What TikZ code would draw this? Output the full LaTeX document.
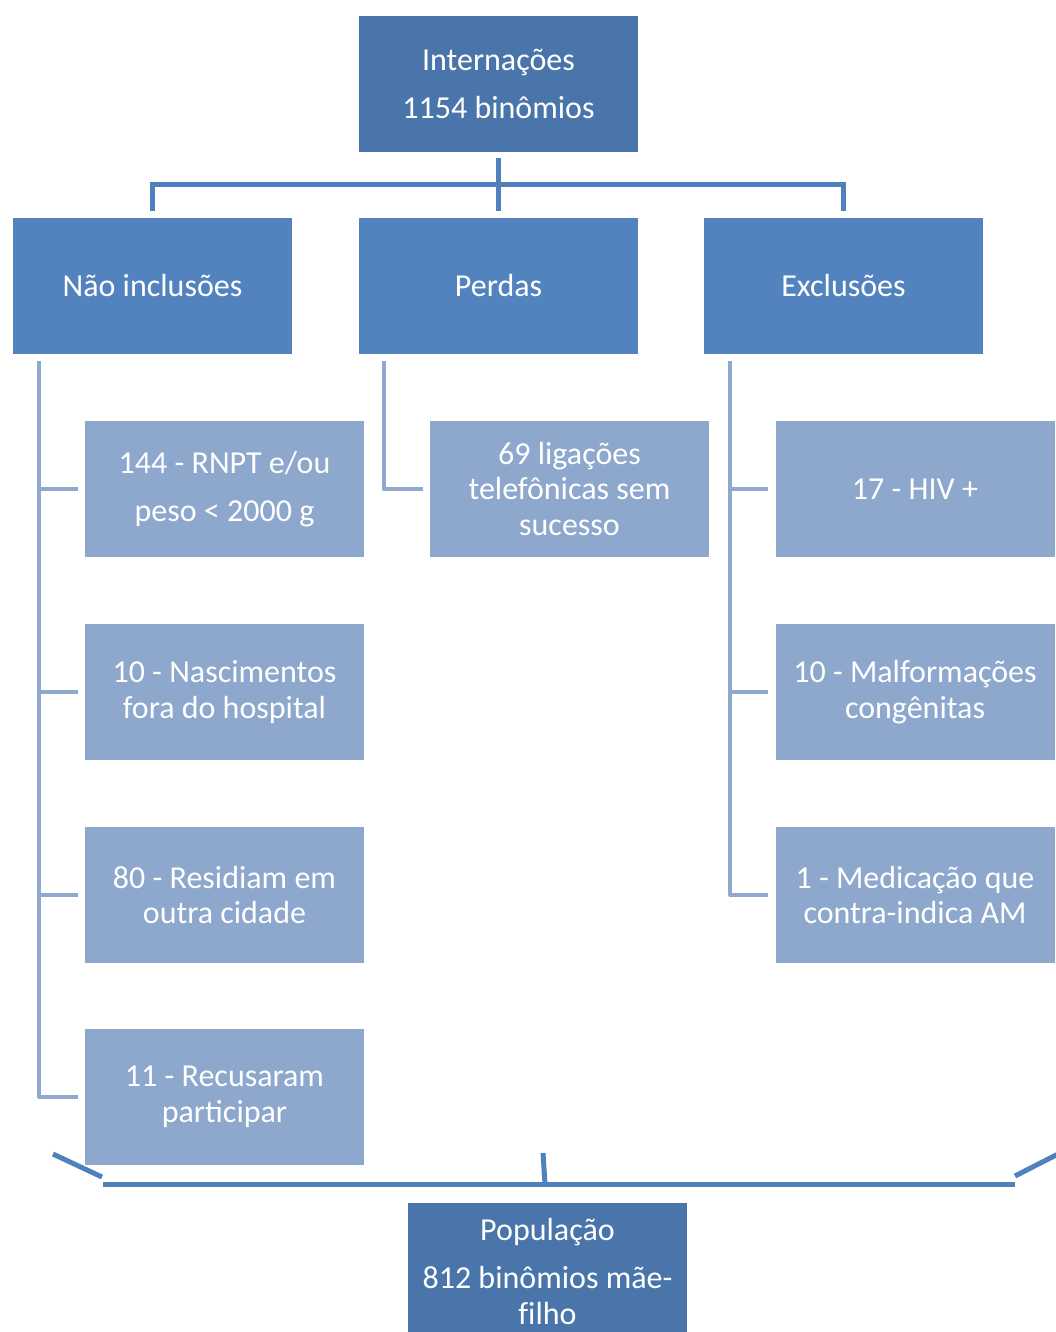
\documentclass[tikz,border=0pt]{standalone}
\usepackage{fontspec}
\setmainfont{Carlito}
\definecolor{dark}{RGB}{73,117,171}
\definecolor{mid}{RGB}{82,131,190}
\definecolor{leaf}{RGB}{141,167,205}
\definecolor{conn}{RGB}{79,129,189}
\definecolor{lconn}{RGB}{142,168,206}
\begin{document}
\begin{tikzpicture}[x=1pt,y=-1pt,
  box/.style={rectangle,minimum width=279pt,minimum height=136pt,inner sep=0pt,
    text=white,align=center,font=\fontsize{32}{35.5}\selectfont},
  topbox/.style={box,fill=dark},
  midbox/.style={box,fill=mid},
  leafbox/.style={box,fill=leaf},
  conline/.style={draw=conn,line width=5pt},
  leafline/.style={draw=lconn,line width=4pt,line join=round},
]
\useasboundingbox (0,0) rectangle (1056,1332);
\node[topbox] (top) at (498.5,84) {Internações\\[13pt]1154 binômios};
\node[midbox] (nao) at (152.5,286) {Não inclusões};
\node[midbox] (per) at (498.5,286) {Perdas};
\node[midbox] (exc) at (843.5,286) {Exclusões};

\node[leafbox] (l1) at (224.5,489) {144 - RNPT e/ou\\[13pt]peso < 2000 g};
\node[leafbox] (l2) at (224.5,692) {10 - Nascimentos\\fora do hospital};
\node[leafbox] (l3) at (224.5,895) {80 - Residiam em\\outra cidade};
\node[leafbox] (l4) at (224.5,1097) {11 - Recusaram\\participar};
\node[leafbox] (m1) at (569.5,489) {69 ligações\\telefônicas sem\\sucesso};
\node[leafbox] (r1) at (915,489) {17 - HIV +};
\node[leafbox] (r2) at (915,692) {10 - Malformações\\congênitas};
\node[leafbox] (r3) at (915,895) {1 - Medicação que\\contra-indica AM};

\node[topbox,anchor=north] (pop) at (547.5,1203) {População\\[13pt]812 binômios mãe-\\{\addfontfeatures{Ligatures=NoCommon}filho}};

% top connectors
\draw[conline] ([yshift=-6pt]top.south) -- ([yshift=7pt]per.north);
\draw[conline] ([yshift=7pt]nao.north) -- ++(0,-26) -| ([yshift=7pt]exc.north);

% leaf connectors
\coordinate (lc) at (39,361);
\coordinate (mc) at (384,361);
\coordinate (rc) at (730,361);
\foreach \n in {l1,l2,l3,l4} \draw[leafline] (lc) |- ([xshift=-7pt]\n.west);
\draw[leafline] (mc) |- ([xshift=-7pt]m1.west);
\foreach \n in {r1,r2,r3} \draw[leafline] (rc) |- ([xshift=-7pt]\n.west);

% bottom brace
\coordinate (bl) at (103,1184);
\coordinate (br) at (1015,1184);
\draw[conline] (bl) -- (br);
\draw[conline] (53,1154) -- (102,1177);
\draw[conline] (1015,1176) -- (1060,1153);
\draw[conline] (543,1153) -- (545,1184);
\end{tikzpicture}
\end{document}
